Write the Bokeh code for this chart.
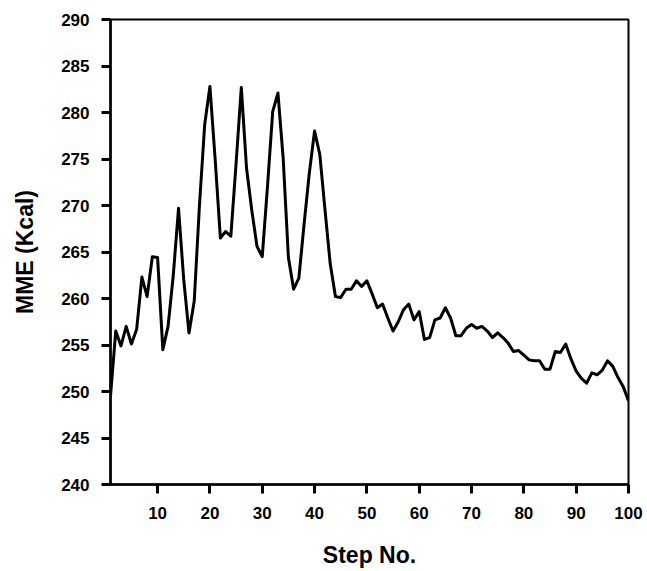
from bokeh.plotting import figure
from bokeh.models import Range1d, FixedTicker
from bokeh.embed import file_html
from bokeh.resources import INLINE

steps = list(range(1, 101))
mme = [
    249.5, 256.5, 254.9, 257.0, 255.1, 256.7, 262.3, 260.2, 264.5, 264.4,
    254.5, 257.0, 262.5, 269.7, 262.0, 256.3, 259.7, 270.0, 278.7, 282.8,
    275.0, 266.5, 267.2, 266.7, 274.5, 282.7, 274.0, 269.5, 265.6, 264.5,
    272.0, 280.1, 282.1, 275.1, 264.4, 261.0, 262.2, 268.0, 273.5, 278.0,
    275.5, 269.5, 263.7, 260.2, 260.1, 261.0, 261.0, 261.9, 261.3, 261.9,
    260.5, 259.0, 259.4, 257.9, 256.5, 257.5, 258.8, 259.4, 257.7, 258.6,
    255.6, 255.8, 257.7, 257.9, 259.0, 257.9, 256.0, 256.0, 256.8, 257.2,
    256.8, 257.0, 256.5, 255.8, 256.3, 255.8, 255.2, 254.3, 254.4, 253.9,
    253.4, 253.3, 253.3, 252.4, 252.4, 254.3, 254.2, 255.1, 253.5, 252.2,
    251.4, 250.9, 252.0, 251.8, 252.3, 253.3, 252.7, 251.5, 250.5, 249.0,
]
x_ticks = [10, 20, 30, 40, 50, 60, 70, 80, 90, 100]
y_ticks = [240, 245, 250, 255, 260, 265, 270, 275, 280, 285, 290]

p = figure(frame_width=518, frame_height=465,
           min_border_left=110, min_border_top=19, min_border_right=17, min_border_bottom=82,
           x_range=Range1d(1, 100), y_range=Range1d(240, 290),
           output_backend="svg", toolbar_location=None)

p.line(steps, mme, line_color="black", line_width=3, line_join="round")

p.grid.visible = False
p.outline_line_color = "black"
p.outline_line_width = 2
p.background_fill_color = "white"
p.border_fill_color = "white"

font = "Liberation Sans"
p.axis.axis_line_color = "black"
p.axis.axis_line_width = 2.5
p.axis.major_tick_line_color = "#000000"
p.axis.major_tick_line_width = 3
p.axis.major_tick_out = 9
p.axis.major_tick_in = 0
p.axis.minor_tick_line_color = None
p.axis.major_label_text_font = font
p.axis.major_label_text_font_size = "17px"
p.axis.major_label_text_font_style = "bold"
p.axis.major_label_text_color = "black"
p.axis.axis_label_text_font = font
p.axis.axis_label_text_font_size = "23px"
p.axis.axis_label_text_font_style = "bold"
p.axis.axis_label_text_color = "black"

p.xaxis.ticker = FixedTicker(ticks=x_ticks)
p.yaxis.ticker = FixedTicker(ticks=y_ticks)
p.xaxis.axis_label = "Step No."
p.yaxis.axis_label = "MME (Kcal)"
p.xaxis.major_label_standoff = 13
p.yaxis.major_label_standoff = 12
p.xaxis.axis_label_standoff = 20
p.yaxis.axis_label_standoff = 20

open("out.html", "w").write(file_html(p, INLINE))
